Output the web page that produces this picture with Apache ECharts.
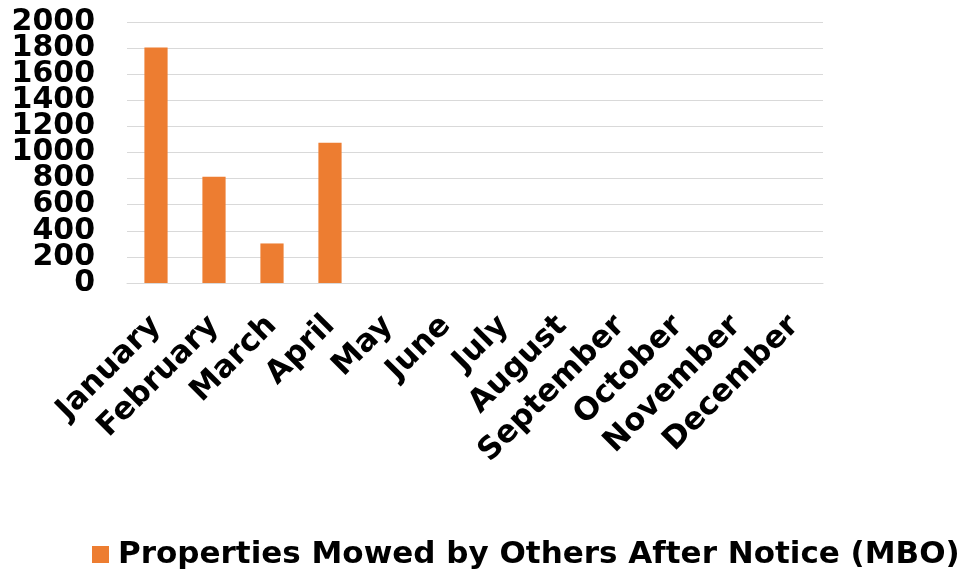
<!DOCTYPE html>
<html>
<head>
<meta charset="utf-8">
<script src="https://cdn.jsdelivr.net/npm/echarts@6/dist/echarts.min.js"></script>
<style>
  html, body { margin: 0; padding: 0; background: #fff; }
  #chart { width: 959px; height: 573px; }
</style>
</head>
<body>
<div id="chart"></div>
<script>
// Chart data
const months = ['January', 'February', 'March', 'April', 'May', 'June',
    'July', 'August', 'September', 'October', 'November', 'December'];
const mowedCounts = [1805, 815, 303, 1074, null, null, null, null, null, null, null, null];
const seriesName = 'Properties Mowed by Others After Notice (MBO)';
const yMin = 0;
const yMax = 2000;
const yStep = 200;

const font = 'DejaVu Sans, Verdana, sans-serif';
const chart = echarts.init(document.getElementById('chart'));

const yLabelStyle = {
    margin: 32,
    fontFamily: font,
    fontWeight: 'bold',
    fontSize: 30,
    color: '#000'
};

// The labels are tightly packed, so ECharts would drop the neighbours of 0 and 2000.
// Draw inner labels on one axis and the end labels on a second, overlapping axis.
chart.setOption({
    animation: false,
    grid: { left: 127, right: 136, top: 22, bottom: 290 },
    legend: {
        top: 539,
        left: 92,
        padding: 0,
        itemWidth: 17,
        itemHeight: 17,
        icon: 'rect',
        textStyle: {
            fontFamily: font, fontWeight: 'bold', fontSize: 31, color: '#000',
            padding: [0, 0, 0, 4]
        },
        data: [seriesName]
    },
    xAxis: {
        type: 'category',
        data: months,
        axisLine: { show: true, lineStyle: { color: '#d9d9d9', width: 1 } },
        axisTick: { show: false },
        axisLabel: {
            rotate: 45,
            interval: 0,
            margin: 38,
            fontFamily: font,
            fontWeight: 'bold',
            fontSize: 31,
            color: '#000'
        }
    },
    yAxis: [
        {
            type: 'value',
            position: 'left',
            min: yMin,
            max: yMax,
            interval: yStep,
            axisLine: { show: false },
            axisTick: { show: false },
            splitLine: { lineStyle: { color: '#d9d9d9', width: 1 } },
            axisLabel: Object.assign({}, yLabelStyle, {
                showMinLabel: false,
                showMaxLabel: false,
                formatter: v => String(v)
            })
        },
        {
            type: 'value',
            position: 'left',
            offset: 0,
            min: yMin,
            max: yMax,
            interval: yStep,
            axisLine: { show: false },
            axisTick: { show: false },
            splitLine: { show: false },
            axisLabel: Object.assign({}, yLabelStyle, {
                showMinLabel: true,
                showMaxLabel: true,
                formatter: v => (v === yMin || v === yMax) ? String(v) : ''
            })
        }
    ],
    series: [{
        name: seriesName,
        type: 'bar',
        yAxisIndex: 0,
        data: mowedCounts,
        barWidth: '40%',
        itemStyle: { color: '#ed7d31' }
    }]
});
</script>
</body>
</html>
